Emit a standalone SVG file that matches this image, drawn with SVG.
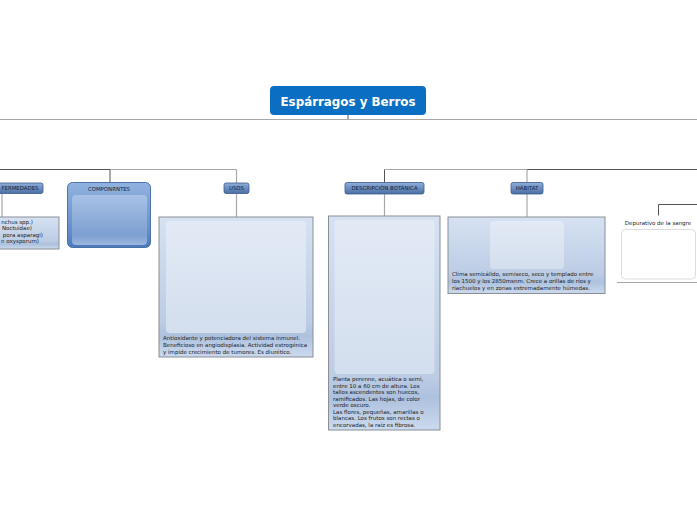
<svg xmlns="http://www.w3.org/2000/svg" width="697" height="520" viewBox="0 0 697 520">
<defs>
<linearGradient id="gHdr" x1="0" y1="0" x2="0" y2="1">
<stop offset="0" stop-color="#8eaedb"/><stop offset="1" stop-color="#4a6ea4"/>
</linearGradient>
<linearGradient id="gComp" x1="0" y1="0" x2="0" y2="1">
<stop offset="0" stop-color="#91b2df"/><stop offset="0.8" stop-color="#5f8cc8"/><stop offset="1" stop-color="#4a78b8"/>
</linearGradient>
<linearGradient id="gCompIn" x1="0" y1="0" x2="0" y2="1">
<stop offset="0" stop-color="#a8c2e6"/><stop offset="0.8" stop-color="#7d9fd1"/><stop offset="1" stop-color="#9bb7df"/>
</linearGradient>
<linearGradient id="gBox" x1="0" y1="0" x2="0" y2="1">
<stop offset="0" stop-color="#d6e2f2"/><stop offset="0.75" stop-color="#bccce4"/><stop offset="0.85" stop-color="#adc1de"/><stop offset="1" stop-color="#ccdaee"/>
</linearGradient>
<linearGradient id="gIn" x1="0" y1="0" x2="0" y2="1">
<stop offset="0" stop-color="#e2eaf5"/><stop offset="1" stop-color="#d3deee"/>
</linearGradient>
</defs>
<style>
.hdr{fill:url(#gHdr);stroke:#3b5b8d;stroke-width:0.8}
.hl{font-family:"DejaVu Sans",Verdana,sans-serif;font-size:5.4px;fill:#13233d;text-anchor:middle}
.box{fill:url(#gBox);stroke:#8a8f96;stroke-width:1}
.inner{fill:url(#gIn)}
.bt{font-family:"DejaVu Sans",Verdana,sans-serif;font-size:5.5px;fill:#1c1c1c}
.ln{fill:none;stroke:#a8a8a8;stroke-width:1.2}
.lnd{fill:none;stroke:#555;stroke-width:1}
</style>
<rect width="697" height="520" fill="#ffffff"/>

<g id="connectors">
<line class="ln" x1="0" y1="119.5" x2="697" y2="119.5" stroke-width="1.6"/>
<line class="lnd" x1="348" y1="115" x2="348" y2="119"/>
<line class="lnd" x1="0" y1="169.5" x2="110" y2="169.5"/>
<line class="ln" x1="110" y1="169.5" x2="236.5" y2="169.5"/>
<line class="lnd" x1="110" y1="169.5" x2="110" y2="182.5"/>
<line class="ln" x1="236.5" y1="169.5" x2="236.5" y2="183"/>
<line class="ln" x1="236.5" y1="194" x2="236.5" y2="217"/>
<line class="ln" x1="2" y1="193" x2="2" y2="217"/>
<line class="ln" x1="384.5" y1="169.5" x2="527" y2="169.5"/>
<line class="lnd" x1="527" y1="169.5" x2="697" y2="169.5"/>
<line class="lnd" x1="384.5" y1="169.5" x2="384.5" y2="182.5"/>
<line class="ln" x1="384.5" y1="194" x2="384.5" y2="216"/>
<line class="ln" x1="527" y1="169.5" x2="527" y2="182.5"/>
<line class="ln" x1="527" y1="194" x2="527" y2="217"/>
<path class="lnd" d="M697 204.5 H658.5 V215.5"/>
<line class="ln" x1="617" y1="282.5" x2="697" y2="282.5"/>
</g>

<g id="title">
<rect x="270" y="86" width="156" height="29" rx="4" fill="#0a6fc2"/>
<text x="348" y="106" font-family="DejaVu Sans,Verdana,sans-serif" font-weight="bold" font-size="12.5" fill="#ffffff" text-anchor="middle" textLength="135" lengthAdjust="spacingAndGlyphs">Espárragos y Berros</text>
</g>

<g id="enfermedades">
<rect class="hdr" x="-20" y="183" width="63" height="10.5" rx="2"/>
<text class="hl" x="38.5" y="190.3" style="text-anchor:end">FERMEDADES</text>
</g>
<g id="enfermedades-text">
<rect class="box" x="-20" y="217" width="79" height="32"/>
<text class="bt" x="33" y="223.5" text-anchor="end">nchus spp.)</text>
<text class="bt" x="32" y="230" text-anchor="end">Noctuidae)</text>
<text class="bt" x="43" y="236.5" text-anchor="end">pora asparagi)</text>
<text class="bt" x="39" y="243" text-anchor="end">n oxysporum)</text>
</g>

<g id="componentes">
<rect x="67.5" y="182.5" width="83" height="65" rx="5" fill="url(#gComp)" stroke="#3e68a3" stroke-width="0.9"/>
<rect x="72" y="195" width="75" height="50" rx="4" fill="url(#gCompIn)"/>
<text class="hl" x="109" y="190.5">COMPONRNTES</text>
</g>

<g id="usos">
<rect class="hdr" x="224" y="183" width="25" height="10.5" rx="2"/>
<text class="hl" x="236.5" y="190.3">USOS</text>
</g>
<g id="usos-text">
<rect class="box" x="159" y="217" width="154" height="140"/>
<rect class="inner" x="166" y="221" width="140" height="112" rx="4"/>
<text class="bt" x="163" y="340">Antioxidante y potenciadora del sistema inmunel.</text>
<text class="bt" x="163" y="347">Beneficioso en angiodisplasia. Actividad estrogénica</text>
<text class="bt" x="163" y="354">y impide crecimiento de tumores. Es diurético.</text>
</g>

<g id="descripcion">
<rect class="hdr" x="345" y="182.5" width="79" height="11.5" rx="2"/>
<text class="hl" x="384.5" y="190.3">DESCRIPCIÓN BOTÁNICA</text>
</g>
<g id="descripcion-text">
<rect class="box" x="328.5" y="216" width="111.5" height="214"/>
<rect class="inner" x="334.5" y="220" width="100" height="154" rx="4"/>
<text class="bt" x="333" y="381">Planta perenne, acuática o semi,</text>
<text class="bt" x="333" y="387.5">entre 10 a 60 cm de altura. Los</text>
<text class="bt" x="333" y="394">tallos ascendentes son  huecos,</text>
<text class="bt" x="333" y="400.5">ramificados. Las hojas, de color</text>
<text class="bt" x="333" y="407">verde oscuro.</text>
<text class="bt" x="333" y="413.5">Las flores, pequeñas, amarillas o</text>
<text class="bt" x="333" y="420">blancas. Los frutos son rectas o</text>
<text class="bt" x="333" y="426.5">encorvadas, la raíz es fibrosa.</text>
</g>

<g id="habitat">
<rect class="hdr" x="511" y="182.5" width="32" height="11.5" rx="2"/>
<text class="hl" x="527" y="190.3">HÁBITAT</text>
</g>
<g id="habitat-text">
<rect class="box" x="448" y="217" width="157" height="76.5"/>
<rect class="inner" x="490" y="221" width="74" height="48" rx="4"/>
<text class="bt" x="452" y="276">Clima semicálido, semiseco, seco y templado entre</text>
<text class="bt" x="452" y="283">los 1500 y los 2850msnm. Crece a orillas de ríos y</text>
<text class="bt" x="452" y="290">riachuelos y en zonas extremadamente húmedas.</text>
</g>

<g id="depurativo">
<text class="bt" x="658" y="225" text-anchor="middle">Depurativo de la sangre</text>
<rect x="621.5" y="229.5" width="74" height="49.5" rx="4" fill="#ffffff" stroke="#dcdcdc" stroke-width="1"/>
</g>
</svg>
